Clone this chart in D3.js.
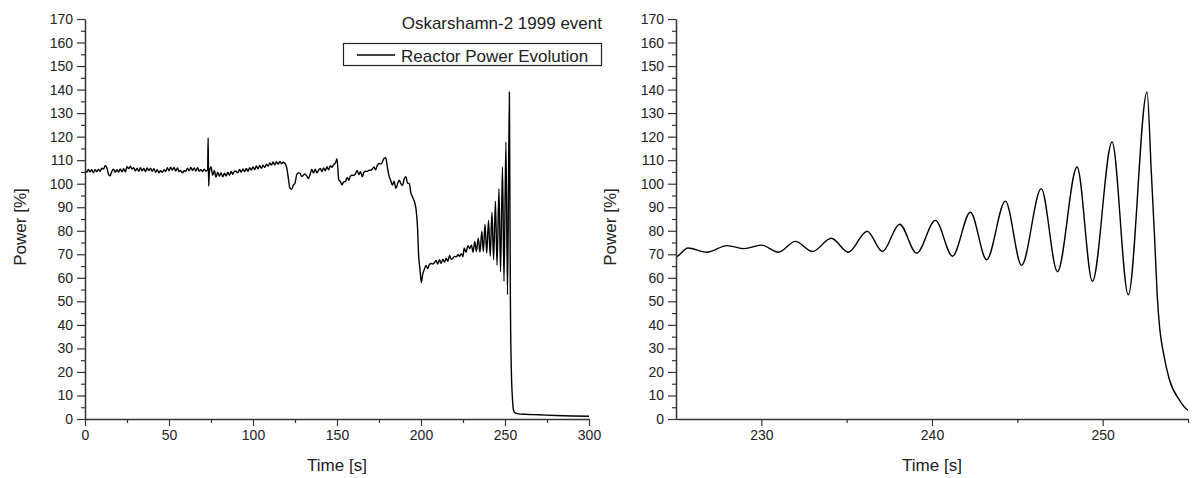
<!DOCTYPE html>
<html><head><meta charset="utf-8">
<script src="https://cdn.jsdelivr.net/npm/d3@7"></script>
<style>
body{margin:0;background:#fff}
svg text{font-family:Arial,"Liberation Sans",sans-serif;fill:#222}
</style>
</head><body>
<svg id="c" width="1194" height="478"></svg>
<script>
// ---- data ----
const timeS = [
  0,1,2,3,4,5,6,7,8,9,
  10,11,12,13,14,15,16,17,18,19,
  20,21,22,23,24,25,26,27,28,29,
  30,31,32,33,34,35,36,37,38,39,
  40,41,42,43,44,45,46,47,48,49,
  50,51,52,53,54,55,56,57,58,59,
  60,61,62,63,64,65,66,67,68,69,
  70,71,72,73,73.3,73.6,
  74,75,76,77,78,79,
  80,81,82,83,84,85,86,87,88,89,
  90,91,92,93,94,95,96,97,98,99,
  100,101,102,103,104,105,106,107,108,109,
  110,111,112,113,114,115,116,117,118,119,
  120,121,122,123,124,125,126,127,128,129,
  130,131,132,133,134,135,136,137,138,139,
  140,141,142,143,144,145,146,147,148,149,
  150,151,152,153,154,155,156,157,158,159,
  160,161,162,163,164,165,166,167,168,169,
  170,171,172,173,174,175,176,177,178,179,
  180,181,182,183,184,185,186,187,188,189,
  190,191,192,193,194,195,196,197,
  198,198.5,199.4,200.2,201,202,
  203,204,205,206,207,208,209,210,211,212,
  213,214,215,216,217,218,219,220,221,222,223,224,
  225,225.7,226.8,228,229,230,231,232,233,234.1,
  235.1,236.2,237.1,238.1,239.1,240.2,241.2,242.25,243.2,244.3,
  245.25,246.4,247.35,248.5,249.4,250.55,251.5,252.6,
  252.85,253.05,253.2,253.35,253.55,253.9,254.5,255,
  256,258,262,270,280,290,300
];
const powerPct = [
  105.9,104.9,106.1,105.0,105.9,104.7,106.0,105.1,106.2,105.2,
  106.6,106.2,107.6,106.8,104.0,103.4,105.3,106.2,104.9,106.0,
  104.9,106.3,105.1,106.4,105.0,107.2,106.4,107.4,106.2,106.8,
  105.4,106.6,105.3,106.8,105.5,106.5,105.2,106.7,105.6,106.6,
  105.3,106.4,104.9,105.9,104.6,105.5,104.8,106.0,105.2,106.8,
  105.5,107.0,105.8,106.9,105.4,106.7,105.1,105.6,104.6,105.5,
  105.3,106.6,105.5,106.9,105.7,106.7,105.4,106.8,105.3,106.0,
  105.2,106.2,105.4,106.0,119.5,99.0,
  104.5,107.2,103.6,105.6,102.8,104.9,
  103.2,104.7,102.9,104.5,103.3,104.9,103.6,105.2,104.0,105.4,
  105.2,104.6,106.1,104.9,106.3,105.1,106.5,105.3,106.8,105.8,
  107.1,106.0,107.5,106.3,107.8,106.6,107.9,106.9,108.3,107.4,
  108.8,107.9,109.2,108.0,109.3,108.3,109.5,108.5,109.1,108.6,
  107.0,102.5,98.1,97.6,99.4,100.2,103.8,104.6,104.3,103.1,
  103.6,104.1,103.3,102.2,103.9,106.2,104.5,106.2,104.6,105.7,
  106.5,105.1,106.7,105.5,107.2,105.9,107.6,107.0,108.1,108.7,
  110.6,101.8,100.9,99.5,100.8,100.9,102.7,101.5,103.3,103.6,
  103.5,104.3,105.6,103.9,105.1,103.0,104.8,105.3,105.2,105.7,
  105.7,106.2,107.1,105.9,107.8,108.6,108.4,109.2,110.8,111.0,
  107.0,103.2,101.3,99.4,101.1,98.0,99.8,101.5,100.1,99.3,
  102.0,103.0,100.2,100.1,96.0,94.3,92.5,89.4,
  80.6,70.7,63.6,58.0,61.5,63.6,
  65.3,63.9,65.7,66.1,65.9,66.5,67.4,65.9,67.7,66.1,
  67.9,66.7,68.3,67.0,69.5,67.9,68.4,69.1,68.9,69.8,69.2,70.3,
  69.0,72.7,70.9,73.7,72.4,73.9,70.9,75.5,71.2,76.8,
  70.9,79.8,71.2,82.8,70.5,84.4,69.2,87.9,67.7,92.6,
  65.3,97.9,62.6,107.1,58.5,117.7,52.8,139.0,
  105.0,76.0,52.0,38.0,28.5,17.0,8.0,3.8,
  2.6,2.2,2.0,1.8,1.5,1.3,1.2
];
const yMajorTicks = [0,10,20,30,40,50,60,70,80,90,100,110,120,130,140,150,160,170];
const yMinorTicks = [5,15,25,35,45,55,65,75,85,95,105,115,125,135,145,155,165];
const leftXMajor = [0,50,100,150,200,250,300];
const leftXMinor = [25,75,125,175,225,275];
const rightXMajor = [230,240,250];
const rightXMinor = [235,245,255];
const titleText = "Oskarshamn-2 1999 event";
const legendText = "Reactor Power Evolution";
const xLabel = "Time [s]";
const yLabel = "Power [%]";

// ---- drawing ----
const svg = d3.select("#c");
const defs = svg.append("defs");
const series = d3.zip(timeS, powerPct);
const TOP = 19, BOTTOM = 419;

function panel(xr, xdom, xMajor, xMinor, id, yLabelX) {
  const x = d3.scaleLinear().domain(xdom).range(xr);
  const y = d3.scaleLinear().domain([0,170]).range([BOTTOM, TOP]);
  const g = svg.append("g");
  defs.append("clipPath").attr("id", id).append("rect")
    .attr("x", xr[0]).attr("y", 0).attr("width", xr[1]-xr[0]).attr("height", BOTTOM+1);

  g.append("path").datum(series)
    .attr("clip-path", `url(#${id})`)
    .attr("fill","none").attr("stroke","#000").attr("stroke-width",1.4)
    .attr("stroke-linejoin","round")
    .attr("d", d3.line().x(d=>x(d[0])).y(d=>y(d[1])).curve(d3.curveMonotoneX));

  const style = sel => {
    sel.select(".domain").attr("stroke","#333").attr("stroke-width",1.5);
    sel.selectAll(".tick line").attr("stroke","#333").attr("stroke-width",1.2);
    sel.selectAll("text").attr("font-size",14).style("fill","#222");
    sel.attr("font-family",null).attr("font-size",null);
  };
  // x axis
  g.append("g").attr("transform",`translate(0,${BOTTOM})`)
    .call(d3.axisBottom(x).tickValues(xMinor).tickSize(4).tickSizeOuter(0).tickFormat(""))
    .call(style).call(s=>s.select(".domain").remove());
  g.append("g").attr("transform",`translate(0,${BOTTOM})`)
    .call(d3.axisBottom(x).tickValues(xMajor).tickSize(7).tickSizeOuter(0).tickPadding(4).tickFormat(d3.format("d")))
    .call(style);
  // y axis
  g.append("g").attr("transform",`translate(${xr[0]},0)`)
    .call(d3.axisLeft(y).tickValues(yMinorTicks).tickSize(4).tickSizeOuter(0).tickFormat(""))
    .call(style).call(s=>s.select(".domain").remove());
  g.append("g").attr("transform",`translate(${xr[0]},0)`)
    .call(d3.axisLeft(y).tickValues(yMajorTicks).tickSize(8).tickSizeOuter(0).tickPadding(4).tickFormat(d3.format("d")))
    .call(style);

  g.append("text").attr("x",(xr[0]+xr[1])/2).attr("y",471)
    .attr("text-anchor","middle").attr("font-size",17).text(xLabel);
  g.append("text").attr("transform",`translate(${yLabelX},227) rotate(-90)`)
    .attr("text-anchor","middle").attr("font-size",17).text(yLabel);
  return {x, y, g};
}

panel([85,589],[0,300],leftXMajor,leftXMinor,"clipL",26);
panel([676,1188],[225,255],rightXMajor,rightXMinor,"clipR",616);

// title and legend (left panel)
svg.append("text").attr("x",602).attr("y",29).attr("text-anchor","end")
  .attr("font-size",17).text(titleText);
svg.append("rect").attr("x",343.5).attr("y",43.5).attr("width",258).attr("height",22)
  .attr("fill","#fff").attr("stroke","#222").attr("stroke-width",1.2);
svg.append("line").attr("x1",357).attr("x2",395).attr("y1",55).attr("y2",55)
  .attr("stroke","#000").attr("stroke-width",1.3);
svg.append("text").attr("x",401).attr("y",62).attr("font-size",17).text(legendText);
</script>
</body></html>
